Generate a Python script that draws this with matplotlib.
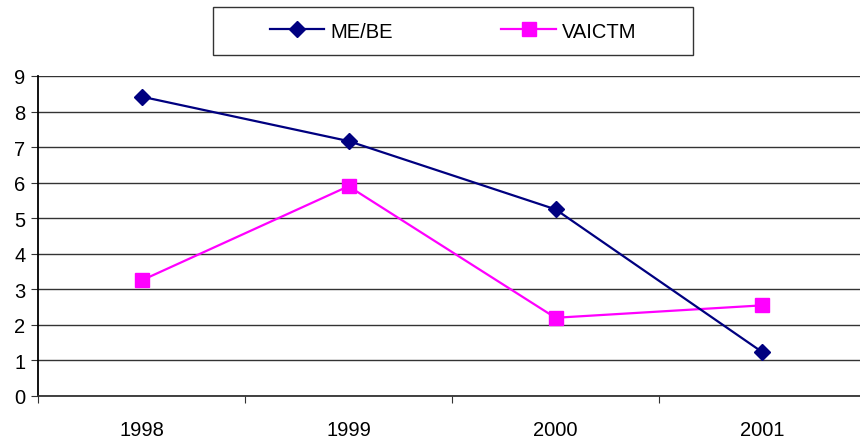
import matplotlib.pyplot as plt
import matplotlib.lines as mlines
import matplotlib.patches as patches

plt.rcParams["font.family"] = ["Liberation Sans", "DejaVu Sans"]

years = ["1998", "1999", "2000", "2001"]
me_be = [8.42, 7.17, 5.25, 1.23]
vaictm = [3.25, 5.9, 2.2, 2.55]

W, H = 860, 439
fig = plt.figure(figsize=(W / 100, H / 100), dpi=100)
# plot area runs past the right edge, as in the original
ax = fig.add_axes([38 / W, (H - 397) / H, 828 / W, 320 / H])

x = list(range(len(years)))
ax.plot(x, me_be, color="#000080", lw=1.6, marker="D", ms=8.5,
        zorder=4, clip_on=False)
ax.plot(x, vaictm, color="#ff00ff", lw=1.6, marker="s", ms=10,
        zorder=3, clip_on=False)

ax.set_xlim(-0.5, 3.5)
ax.set_ylim(0, 9)
ax.set_yticks(range(10))
ax.yaxis.grid(True, color="#333333", lw=1)
ax.set_axisbelow(True)

# ticks between categories, labels at centres
ax.set_xticks([-0.5, 0.5, 1.5, 2.5, 3.5])
ax.set_xticklabels([])
ax.set_xticks(x, minor=True)
ax.set_xticklabels(years, minor=True, fontsize=14.5)
ax.tick_params(axis="x", which="minor", length=0, pad=17)
ax.tick_params(axis="x", which="major", length=5, color="#333333")
ax.tick_params(axis="y", length=5, labelsize=14.5, pad=4, color="#333333")

for s in ["top", "right"]:
    ax.spines[s].set_visible(False)
ax.spines["left"].set_color("black")
ax.spines["left"].set_linewidth(1.3)
ax.spines["bottom"].set_color("#333333")
ax.spines["bottom"].set_linewidth(1.3)

# legend box drawn by hand, entries centred inside it
box = patches.Rectangle((213 / W, 1 - 56 / H), 480 / W, 48 / H,
                        transform=fig.transFigure, facecolor="white",
                        edgecolor="#333333", lw=1.0)
fig.patches.append(box)

h1 = mlines.Line2D([], [], color="#000080", lw=1.6, marker="D", ms=8.5)
h2 = mlines.Line2D([], [], color="#ff00ff", lw=1.6, marker="s", ms=10)
fig.legend([h1, h2], ["ME/BE", "VAICTM"], ncol=2, fontsize=14.5,
           loc="center", bbox_to_anchor=(453 / W, 1 - 32 / H),
           frameon=False, handlelength=2.7, handletextpad=0.3,
           columnspacing=5.4, borderpad=0, borderaxespad=0)

fig.savefig("out.png", dpi=100)
